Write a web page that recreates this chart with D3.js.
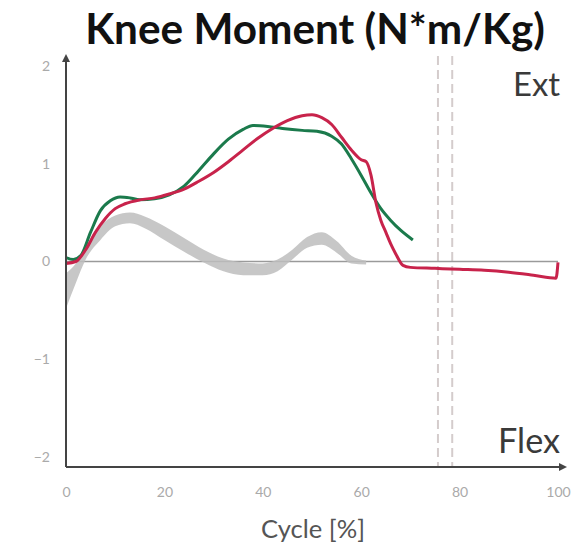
<!DOCTYPE html>
<html>
<head>
<meta charset="utf-8">
<script src="https://cdn.jsdelivr.net/npm/d3@7"></script>
<style>
  body { margin: 0; background: white; }
  text { font-family: Lato, "Open Sans", sans-serif; }
</style>
</head>
<body>
<div id="chart_container"></div>
<script>
// Data
var title = "Knee Moment (N*m/Kg)"
var x_title = "Cycle [%]"
var x_ticks = [0, 20, 40, 60, 80, 100]
var y_ticks = [-2, -1, 0, 1, 2]

var green_pct = [0, 1.5, 3, 5, 7, 9, 11, 13, 15, 18, 21, 24, 27, 30, 33, 36, 38, 41, 44, 48, 51, 54, 56, 58, 60, 62, 64, 66, 68, 70.5]
var green_val = [0.04, 0.02, 0.06, 0.3, 0.52, 0.62, 0.66, 0.65, 0.63, 0.64, 0.68, 0.77, 0.93, 1.1, 1.25, 1.35, 1.39, 1.38, 1.36, 1.34, 1.33, 1.28, 1.2, 1.05, 0.88, 0.7, 0.54, 0.42, 0.32, 0.22]

var red_pct = [0, 2, 4, 6, 8, 10, 12, 15, 18, 21, 24, 27, 30, 33, 36, 39, 42, 45, 48, 50, 52, 54, 56, 58, 60, 61, 62, 63, 64, 65, 66, 67, 68.5, 70, 75, 80, 85, 90, 95, 99.6, 100]
var red_val = [-0.02, 0.0, 0.12, 0.3, 0.44, 0.54, 0.59, 0.63, 0.65, 0.69, 0.74, 0.82, 0.91, 1.02, 1.14, 1.26, 1.36, 1.44, 1.49, 1.5, 1.47, 1.4, 1.27, 1.14, 1.04, 1.02, 0.88, 0.6, 0.42, 0.3, 0.18, 0.08, -0.04, -0.06, -0.07, -0.08, -0.09, -0.11, -0.14, -0.17, -0.01]

var band_pct = [0, 2, 4, 7, 10, 13, 16, 20, 24, 28, 32, 36, 40, 43, 46, 49, 52, 55, 58, 61]
var band_lo = [-0.48, -0.22, 0.02, 0.22, 0.36, 0.39, 0.34, 0.22, 0.1, -0.01, -0.1, -0.14, -0.14, -0.1, 0.02, 0.14, 0.17, 0.09, -0.02, -0.03]
var band_hi = [-0.12, -0.02, 0.14, 0.36, 0.47, 0.5, 0.46, 0.36, 0.24, 0.12, 0.03, -0.01, -0.02, 0.02, 0.12, 0.25, 0.3, 0.21, 0.06, 0.01]

var toe_off = [75.6, 78.5]

// Chart dimensions
var width = 578
var height = 552

var x_scale = d3.scaleLinear().domain([0, 100]).range([66, 558])
var y_scale = d3.scaleLinear().domain([-2.1, 2.1]).range([467, 56])

var svg = d3.select("#chart_container")
    .append("svg")
    .attr("width", width)
    .attr("height", height)

svg.append("defs").append("marker")
    .attr("id", "arrow")
    .attr("viewBox", "0 0 10 10")
    .attr("refX", 5)
    .attr("refY", 5)
    .attr("markerWidth", 4)
    .attr("markerHeight", 4)
    .attr("orient", "auto")
    .append("path")
    .attr("d", "M0,0L10,5L0,10Z")
    .attr("fill", "#444")

// Toe-off lines
svg.append("g")
    .selectAll("line")
    .data(toe_off)
    .enter()
    .append("line")
    .attr("x1", function(d) { return x_scale(d) })
    .attr("x2", function(d) { return x_scale(d) })
    .attr("y1", y_scale(2.1))
    .attr("y2", y_scale(-2.1))
    .attr("stroke", "#d4cccc")
    .attr("stroke-width", 2)
    .attr("stroke-dasharray", "9,5")

// Zero line
svg.append("line")
    .attr("x1", x_scale(0))
    .attr("x2", x_scale(100))
    .attr("y1", y_scale(0))
    .attr("y2", y_scale(0))
    .attr("stroke", "#9a9a9a")
    .attr("stroke-width", 1.5)

// Normal band
var band = d3.area()
    .x(function(d, i) { return x_scale(band_pct[i]) })
    .y0(function(d, i) { return y_scale(band_lo[i]) })
    .y1(function(d, i) { return y_scale(band_hi[i]) })
    .curve(d3.curveMonotoneX)

svg.append("path")
    .attr("d", band(band_pct))
    .attr("fill", "#bdbdbd")
    .attr("opacity", 0.85)

var line = function(px, vals) {
    return d3.line()
        .x(function(d, i) { return x_scale(px[i]) })
        .y(function(d, i) { return y_scale(vals[i]) })
        .curve(d3.curveMonotoneX)(px)
}

svg.append("path")
    .attr("d", line(green_pct, green_val))
    .attr("fill", "none")
    .attr("stroke", "#1b7a4c")
    .attr("stroke-width", 3)

svg.append("path")
    .attr("d", line(red_pct, red_val))
    .attr("fill", "none")
    .attr("stroke", "#c8234b")
    .attr("stroke-width", 3)

// Axes
var x_axis = d3.axisBottom(x_scale).tickValues(x_ticks).tickSize(0).tickPadding(20)
var y_axis = d3.axisLeft(y_scale).tickValues(y_ticks).tickSize(0).tickPadding(16)
    .tickFormat(function(d) { return d < 0 ? "\u2212" + Math.abs(d) : d })

var gx = svg.append("g").attr("transform", "translate(0," + y_scale(-2.1) + ")").call(x_axis)
var gy = svg.append("g").attr("transform", "translate(" + x_scale(0) + ",0)").call(y_axis)
gx.select(".domain").remove()
gy.select(".domain").remove()
svg.selectAll(".tick text")
    .style("font-size", "14px")
    .style("font-family", "Lato, sans-serif")
    .attr("fill", "#aaa")

svg.append("line")
    .attr("x1", x_scale(0))
    .attr("x2", 563)
    .attr("y1", y_scale(-2.1))
    .attr("y2", y_scale(-2.1))
    .attr("stroke", "#444")
    .attr("stroke-width", 2)
    .attr("marker-end", "url(#arrow)")

svg.append("line")
    .attr("x1", x_scale(0))
    .attr("x2", x_scale(0))
    .attr("y1", y_scale(-2.1))
    .attr("y2", 58)
    .attr("stroke", "#444")
    .attr("stroke-width", 2)
    .attr("marker-end", "url(#arrow)")

// Texts, sized to the widths in the picture
function fit(sel, w) {
    var len = sel.node().getComputedTextLength()
    var fs = parseFloat(sel.style("font-size"))
    sel.style("font-size", (fs * w / len) + "px")
}

var t = svg.append("text")
    .attr("x", 315)
    .attr("y", 44)
    .style("text-anchor", "middle")
    .style("font-size", "36px")
    .style("font-weight", "bold")
    .attr("fill", "#111")
    .text(title)
fit(t, 460)

var xt = svg.append("text")
    .attr("x", 313)
    .attr("y", 538)
    .style("text-anchor", "middle")
    .style("font-size", "18px")
    .attr("fill", "#555")
    .text(x_title)
fit(xt, 104)

var ext = svg.append("text")
    .attr("x", 560)
    .attr("y", 96)
    .style("text-anchor", "end")
    .style("font-size", "28px")
    .attr("fill", "#3a3a3a")
    .text("Ext")
fit(ext, 47)

var flex = svg.append("text")
    .attr("x", 560)
    .attr("y", 453)
    .style("text-anchor", "end")
    .style("font-size", "28px")
    .attr("fill", "#3a3a3a")
    .text("Flex")
fit(flex, 62)
</script>
</body>
</html>
